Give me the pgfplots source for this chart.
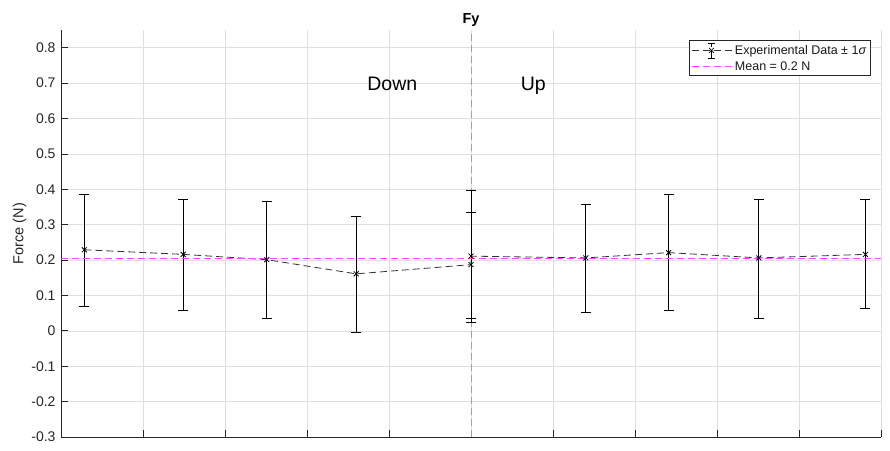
\documentclass[border=0pt]{standalone}
\usepackage{fontspec}
\setmainfont{Liberation Sans}
\usepackage{pgfplots}
\pgfplotsset{compat=1.18}
\usepackage{pgfplotstable}

\definecolor{axgray}{RGB}{38,38,38}
\definecolor{gridgray}{RGB}{223,223,223}
\definecolor{meanmag}{RGB}{255,70,255}
\definecolor{splitgray}{RGB}{160,160,160}

% position, mean force, +1 sigma, -1 sigma
\pgfplotstableread{
x     y      ep     em
0.284 0.229  0.156  0.159
1.49  0.216  0.156  0.158
2.51  0.201  0.166  0.166
3.60  0.161  0.162  0.164
5.00  0.187  0.148  0.151
5.00  0.211  0.187  0.186
6.40  0.206  0.152  0.153
7.41  0.221  0.164  0.163
8.51  0.206  0.166  0.171
9.81  0.216  0.156  0.153
}\fydata

\begin{document}
\begin{tikzpicture}
\useasboundingbox (-61pt,-13pt) rectangle (829pt,437pt);
\begin{axis}[
  at={(0,0)}, anchor=south west,
  width=820pt, height=407pt, scale only axis,
  xmin=0, xmax=10, ymin=-0.3, ymax=0.85,
  axis x line*=bottom, axis y line*=left,
  axis line style={axgray, line width=0.7pt},
  xtick={0,1,...,10}, xticklabels={,,,,,,,,,,},
  ytick={-0.3,-0.2,-0.1,0,0.1,0.2,0.3,0.4,0.5,0.6,0.7,0.8},
  yticklabels={-0.3,-0.2,-0.1,0,0.1,0.2,0.3,0.4,0.5,0.6,0.7,0.8},
  tick align=inside, major tick length=7pt,
  tick style={axgray, line width=0.7pt},
  yticklabel style={font=\fontsize{14}{16}\selectfont, text=axgray, xshift=-2pt},
  grid=major, major grid style={gridgray, line width=0.6pt},
  every axis title shift=0pt,
  title={\textbf{Fy}},
  title style={at={(axis description cs:0.5,1)}, anchor=base, yshift=6.7pt,
               font=\fontsize{14.5}{16}\selectfont, text=black},
  ylabel={Force (N)},
  ylabel style={at={(axis description cs:-0.046,0.5)}, anchor=base,
                font=\fontsize{14.5}{16}\selectfont, text=axgray},
  legend style={at={(axis description cs:0.9875,0.9747)}, anchor=north east,
                draw=axgray, line width=0.6pt, fill=white,
                font=\fontsize{12.5}{14}\selectfont, text=black!90,
                inner xsep=2pt, inner ysep=2pt, row sep=1pt,
                nodes={inner sep=2pt}},
  legend cell align=left,
]
% split between the downward and upward runs
\addplot[splitgray, line width=0.8pt, dash pattern=on 7pt off 4pt, forget plot]
  coordinates {(5,-0.3) (5,0.85)};

\addplot[black!80, line width=0.8pt, dash pattern=on 7pt off 4pt,
  mark=x, mark size=3.5pt, mark options={solid, black},
  legend image code/.code={
    \draw[black!80, line width=0.8pt, dash pattern=on 7pt off 4pt] (0pt,0pt) -- (41pt,0pt);
    \draw[black, line width=0.7pt] (20pt,-7.5pt) -- (20pt,7.5pt)
      (16.5pt,-7.5pt) -- (23.5pt,-7.5pt) (16.5pt,7.5pt) -- (23.5pt,7.5pt);
    \draw[black, line width=0.7pt] (17.5pt,-2.5pt) -- (22.5pt,2.5pt)
      (17.5pt,2.5pt) -- (22.5pt,-2.5pt);
  },
  error bars/.cd, y dir=both, y explicit,
  error bar style={black, solid, line width=0.7pt},
  error mark options={black, rotate=90, mark size=5pt, line width=0.7pt},
  ]
  table[x=x, y=y, y error plus=ep, y error minus=em] {\fydata};
\addlegendentry{Experimental Data ± 1\textit{σ}}

\addplot[meanmag, line width=0.9pt, dash pattern=on 7pt off 4pt,
  legend image code/.code={
    \draw[meanmag, line width=0.9pt, dash pattern=on 7pt off 4pt] (0pt,0pt) -- (41pt,0pt);
  }]
  coordinates {(0,0.205) (10,0.205)};
\addlegendentry{Mean = 0.2 N}

\node[anchor=base, font=\fontsize{19.5}{22}\selectfont] at (axis cs:4.04,0.680) {Down};
\node[anchor=base, font=\fontsize{19.5}{22}\selectfont] at (axis cs:5.76,0.680) {Up};
\end{axis}
\end{tikzpicture}
\end{document}
